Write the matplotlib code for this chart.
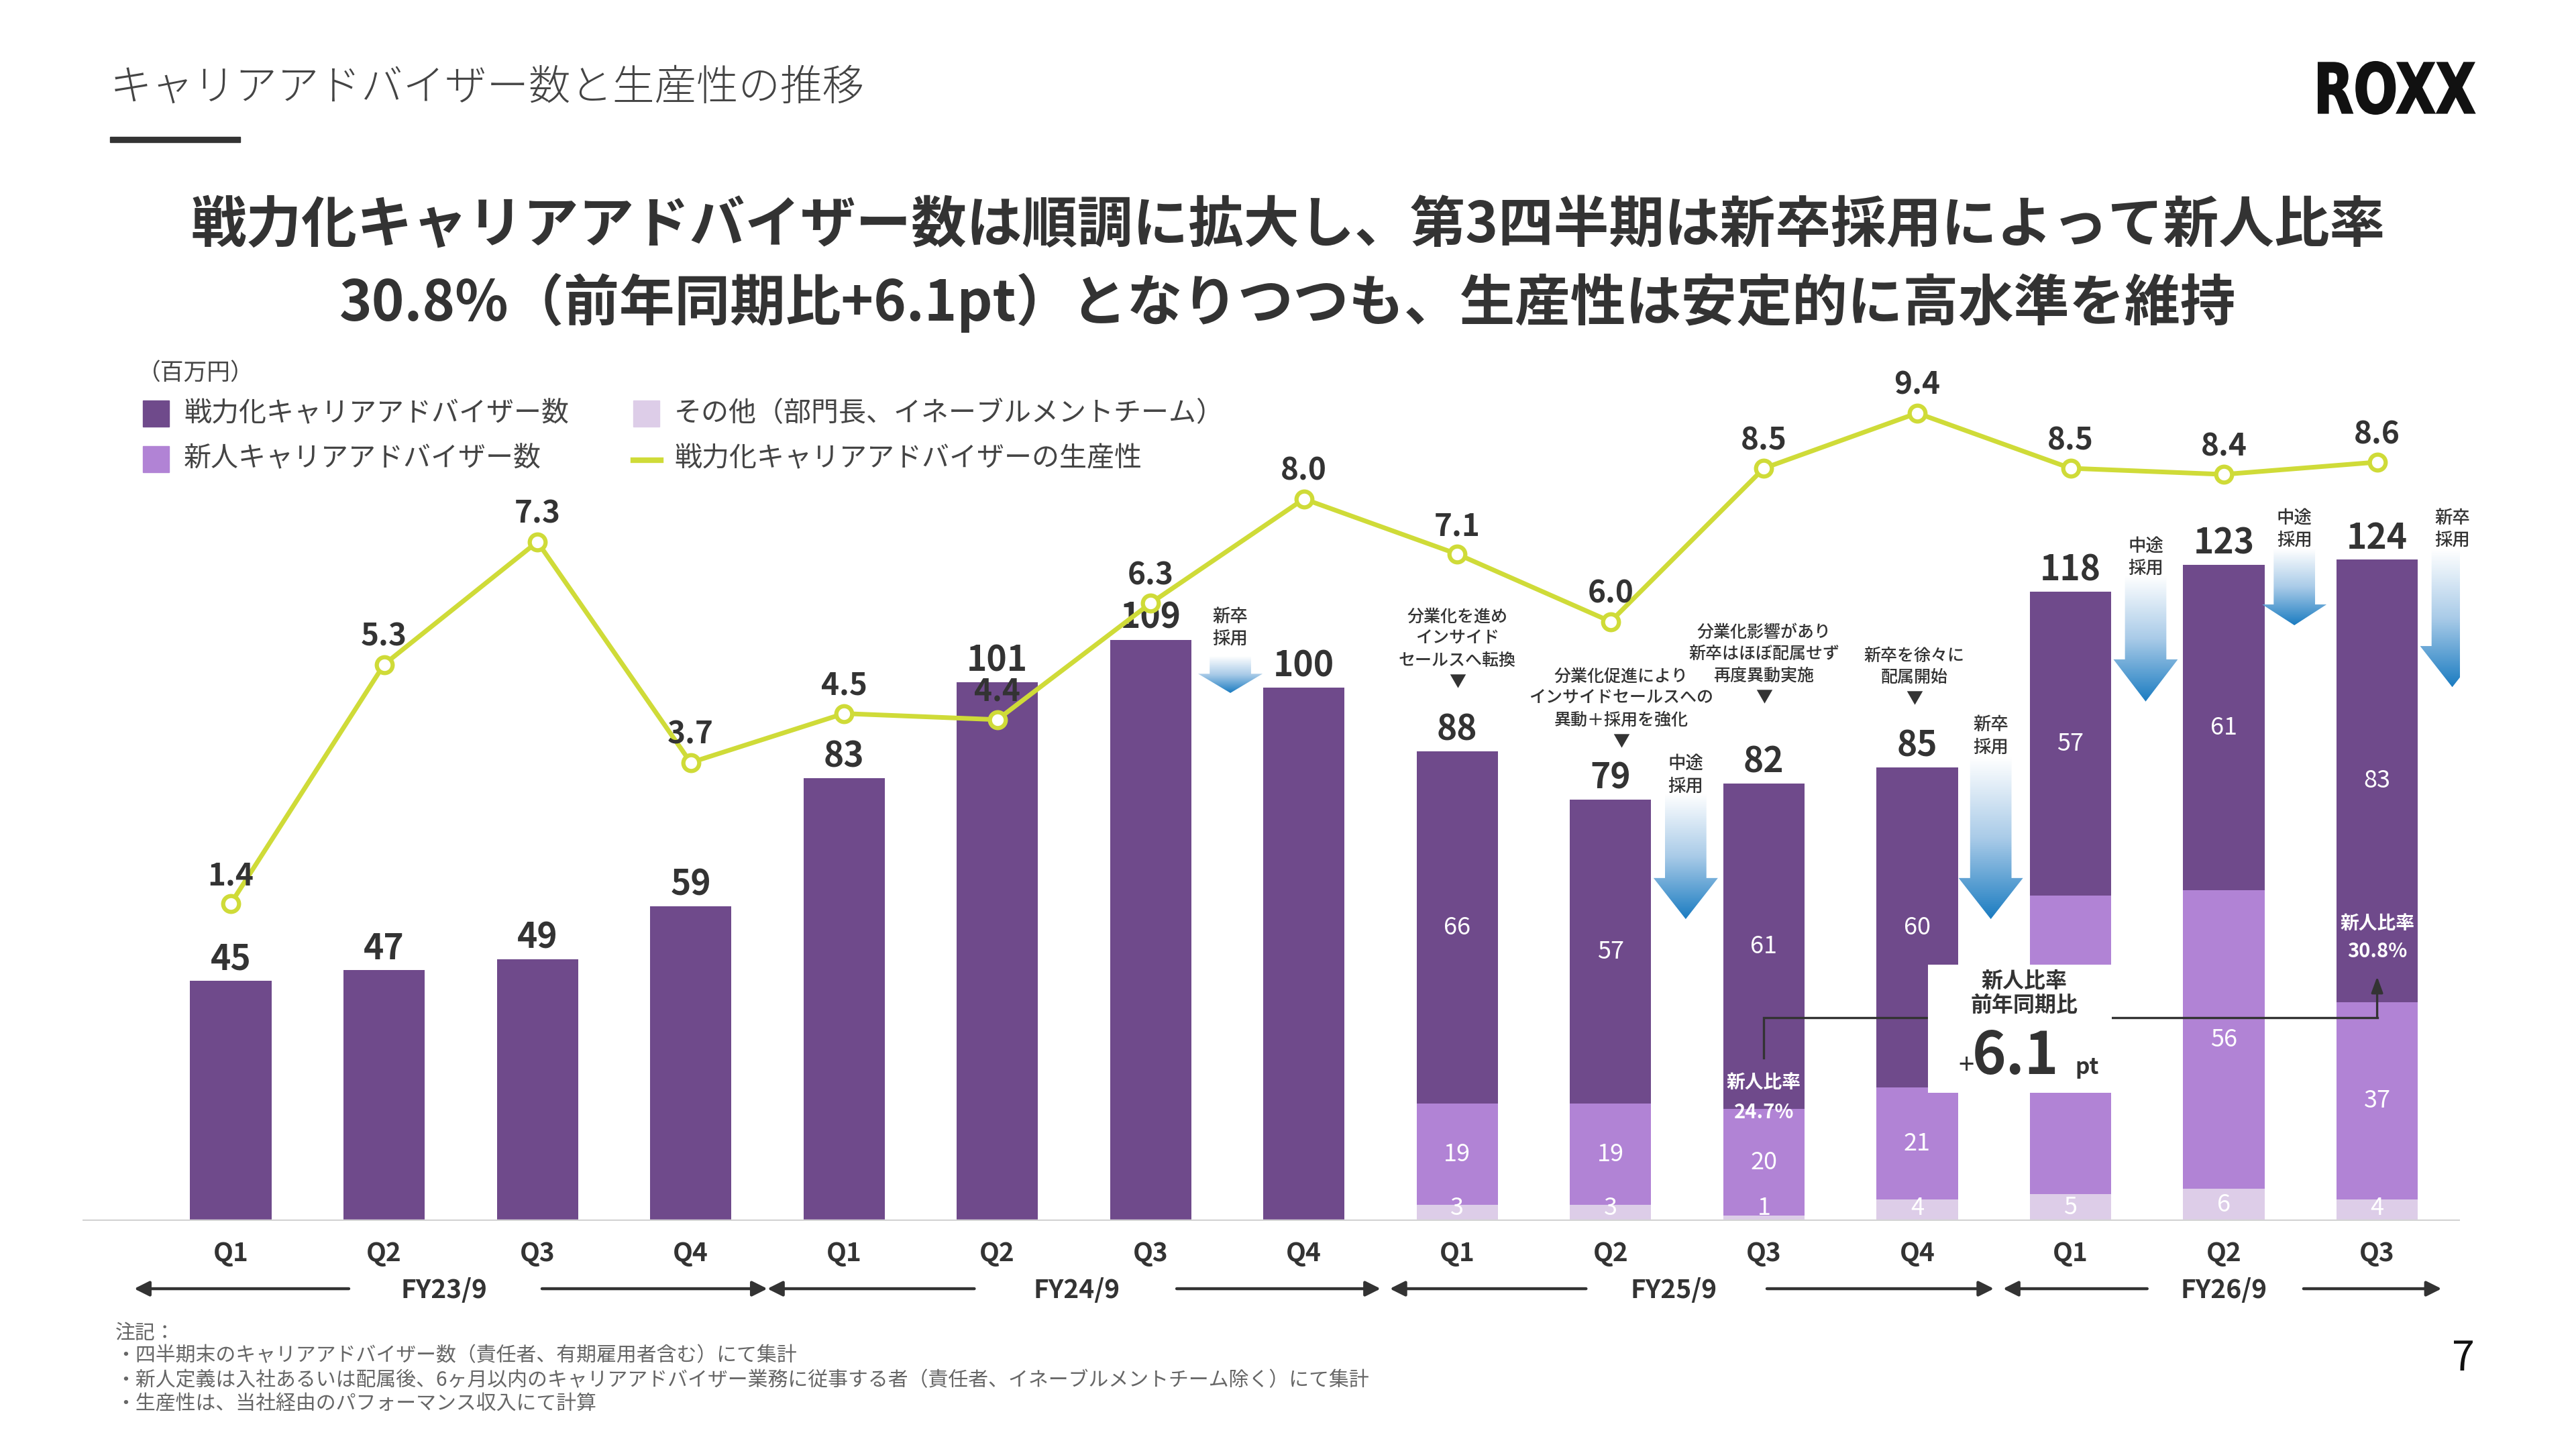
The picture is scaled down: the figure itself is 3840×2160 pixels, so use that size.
import numpy as np
import matplotlib
matplotlib.use('Agg')
import matplotlib.pyplot as plt
import matplotlib.transforms as mtransforms
from matplotlib.patches import Rectangle, Polygon, PathPatch
from matplotlib.lines import Line2D
from matplotlib.colors import LinearSegmentedColormap
from matplotlib.textpath import TextPath
from matplotlib.font_manager import FontProperties

plt.rcParams['font.family'] = ['Noto Sans CJK JP', 'DejaVu Sans']

# ---- data ----
quarters = ['Q1', 'Q2', 'Q3', 'Q4', 'Q1', 'Q2', 'Q3', 'Q4',
            'Q1', 'Q2', 'Q3', 'Q4', 'Q1', 'Q2', 'Q3']
fiscal_years = ['FY23/9', 'FY24/9', 'FY25/9', 'FY26/9']
totals = [45, 47, 49, 59, 83, 101, 109, 100, 88, 79, 82, 85, 118, 123, 124]
core = [45, 47, 49, 59, 83, 101, 109, 100, 66, 57, 61, 60, 57, 61, 83]
new_hires = [0, 0, 0, 0, 0, 0, 0, 0, 19, 19, 20, 21, 56, 56, 37]
others = [0, 0, 0, 0, 0, 0, 0, 0, 3, 3, 1, 4, 5, 6, 4]
productivity = [1.4, 5.3, 7.3, 3.7, 4.5, 4.4, 6.3, 8.0, 7.1, 6.0, 8.5, 9.4, 8.5, 8.4, 8.6]
ratio_labels = ['24.7%', '30.8%']
ratio_change = '6.1'

# colours
C_CORE = '#6f4a8b'
C_NEW = '#b183d5'
C_OTHER = '#ddcde8'
C_LINE = '#cfdb38'
C_TEXT = '#333333'

W, H = 3840, 2160
def fx(px):
    return px / W
def fy(py):
    return 1 - py / H

fig = plt.figure(figsize=(38.4, 21.6), dpi=100, facecolor='white')

# ---- header ----
fig.text(fx(164), fy(132), 'キャリアアドバイザー数と生産性の推移', fontsize=45,
         fontweight='light', color='#444444', va='center', ha='left')
fig.add_artist(Rectangle((fx(164), fy(212)), fx(358) - fx(164), 8 / H,
                         transform=fig.transFigure, color='#333333'))

# logo: squeeze a bold text path into the logo box
logo = TextPath((0, 0), 'ROXX', size=100, prop=FontProperties(family='DejaVu Sans', weight='bold'))
ext = logo.get_extents()
lx0, lx1, ly0, ly1 = 3456, 3689, 92, 170
logo_tr = (mtransforms.Affine2D().translate(-ext.x0, -ext.y0)
           .scale((lx1 - lx0) / ext.width / W, (ly1 - ly0) / ext.height / H)
           .translate(fx(lx0), fy(ly1)) + fig.transFigure)
fig.add_artist(PathPatch(logo, transform=logo_tr, facecolor='#111111', edgecolor='#111111', lw=1.5))

fig.text(0.5, fy(337), '戦力化キャリアアドバイザー数は順調に拡大し、第3四半期は新卒採用によって新人比率',
         fontsize=59.5, fontweight='bold', color=C_TEXT, ha='center', va='center')
fig.text(0.5, fy(451), '30.8%（前年同期比+6.1pt）となりつつも、生産性は安定的に高水準を維持',
         fontsize=59.5, fontweight='bold', color=C_TEXT, ha='center', va='center')

# ---- legend (drawn by hand) ----
fig.text(fx(205), fy(557), '（百万円）', fontsize=25, color='#444444', va='center')
leg = [((213, 597), C_CORE, '戦力化キャリアアドバイザー数', 617),
       ((213, 665), C_NEW, '新人キャリアアドバイザー数', 684),
       ((944, 597), C_OTHER, 'その他（部門長、イネーブルメントチーム）', 617)]
for (lx, ly), col, lab, ty in leg:
    fig.add_artist(Rectangle((fx(lx), fy(ly + 39)), 39 / W, 39 / H,
                             transform=fig.transFigure, color=col))
    fig.text(fx(lx + 61), fy(ty), lab, fontsize=29.5, color='#444444', va='center')
fig.add_artist(Line2D([fx(944), fx(985)], [fy(686), fy(686)], transform=fig.transFigure,
                      color=C_LINE, lw=6))
fig.text(fx(1005), fy(684), '戦力化キャリアアドバイザーの生産性', fontsize=29.5,
         color='#444444', va='center')

# ---- main axes ----
ax = fig.add_axes([fx(123), fy(1820), fx(3667) - fx(123), (1820 - 560) / H])
ax2 = ax.twinx()
for a in (ax, ax2):
    a.patch.set_visible(False)
    for s in a.spines.values():
        s.set_visible(False)
    a.set_yticks([])

x = np.arange(len(quarters))
XLIM = (-0.967, 14.54)
YLIM = (0, 158.5)
ax.bar(x, others, width=0.53, color=C_OTHER, zorder=2)
ax.bar(x, new_hires, width=0.53, bottom=others, color=C_NEW, zorder=2)
ax.bar(x, core, width=0.53, bottom=np.add(others, new_hires), color=C_CORE, zorder=2)
ax.axhline(0, color='#d4d4d4', lw=3.2, zorder=3)

for i, t in enumerate(totals):
    ax.annotate(str(t), (i, t), xytext=(0, 12), textcoords='offset points',
                ha='center', va='baseline', fontsize=37, fontweight='bold', color=C_TEXT)

for i in range(len(quarters)):
    if core[i] != totals[i]:
        b0 = others[i] + new_hires[i]
        ax.text(i, b0 + core[i] / 2, str(core[i]), ha='center', va='center',
                fontsize=26, color='white', zorder=3)
        ax.text(i, others[i] + new_hires[i] / 2, str(new_hires[i]), ha='center', va='center',
                fontsize=26, color='white', zorder=3)
        ax.text(i, max(others[i] / 2, 2.4), str(others[i]), ha='center', va='center',
                fontsize=26, color='white', zorder=3)

ax.set_xticks(x)
ax.set_xticklabels(quarters, fontsize=28, fontweight='bold', color=C_TEXT)
ax.tick_params(axis='x', length=0, pad=21)

# fiscal year labels and arrows
trans = mtransforms.blended_transform_factory(ax.transData, ax.transAxes)
fy_pos = [1.39, 5.52, 9.41, 13.0]
fy_arrows = [(0.77, -0.63), (2.03, 3.5), (4.85, 3.5), (6.17, 7.5),
             (8.84, 7.56), (10.02, 11.5), (12.5, 11.56), (13.52, 14.42)]
for lab, px_ in zip(fiscal_years, fy_pos):
    ax.text(px_, -0.0913, lab, transform=trans, ha='center', va='baseline',
            fontsize=28, fontweight='bold', color=C_TEXT)
for tail, head in fy_arrows:
    ax.annotate('', xy=(head, -0.0802), xytext=(tail, -0.0802), xycoords=trans,
                textcoords=trans, annotation_clip=False,
                arrowprops=dict(arrowstyle='-|>,head_length=0.5,head_width=0.25',
                                color=C_TEXT, lw=3.2, mutation_scale=27,
                                shrinkA=0, shrinkB=0))

# comments above FY25 bars
notes = [(8.0, 100.1, ['分業化を進め', 'インサイド', 'セールスへ転換', '▼']),
         (9.07, 88.9, ['分業化促進により', 'インサイドセールスへの', '異動＋採用を強化', '▼']),
         (10.0, 97.2, ['分業化影響があり', '新卒はほぼ配属せず', '再度異動実施', '▼']),
         (10.98, 96.9, ['新卒を徐々に', '配属開始', '▼'])]
for nx, ny, lines in notes:
    for k, line in enumerate(reversed(lines)):
        ax.annotate(line, (nx, ny), xytext=(0, k * 23.5), textcoords='offset points',
                    ha='center', va='baseline', fontsize=18, fontweight='medium',
                    color=C_TEXT, zorder=4)

# gradient arrows (hiring)
blue_cmap = LinearSegmentedColormap.from_list('hire', ['#ffffff', '#a9cbe8', '#1b7cc1'])
grad = np.linspace(0, 1, 256).reshape(-1, 1)
hire_arrows = [(6.52, 105.9, 102.6, 99.0, 108.2, ['新卒', '採用']),
               (9.49, 80.0, 64.3, 56.6, 80.6, ['中途', '採用']),
               (11.48, 86.9, 64.3, 56.6, 87.9, ['新卒', '採用']),
               (12.49, 121.0, 105.3, 97.4, 121.4, ['中途', '採用']),
               (13.46, 126.0, 115.6, 111.7, 126.7, ['中途', '採用']),
               (14.49, 125.8, 107.8, 100.1, 126.7, ['新卒', '採用'])]
sw, hw = 0.135, 0.21
for axx, top, head, tip, lab_y, lab in hire_arrows:
    verts = [(axx - sw, top), (axx + sw, top), (axx + sw, head), (axx + hw, head),
             (axx, tip), (axx - hw, head), (axx - sw, head)]
    poly = Polygon(verts, closed=True, facecolor='none', edgecolor='none')
    ax.add_patch(poly)
    im = ax.imshow(grad, extent=[axx - hw, axx + hw, tip, top], origin='upper',
                   aspect='auto', cmap=blue_cmap, zorder=3)
    im.set_clip_path(poly)
    for k, line in enumerate(reversed(lab)):
        ax.annotate(line, (axx, lab_y), xytext=(0, k * 24), textcoords='offset points',
                    ha='center', va='baseline', fontsize=19, fontweight='medium',
                    color=C_TEXT, zorder=4)

# new-hire ratio callouts
ax.text(10, 24.9, '新人比率', ha='center', va='baseline', fontsize=20,
        fontweight='bold', color='white', zorder=4)
ax.text(10, 19.2, ratio_labels[0], ha='center', va='baseline', fontsize=21,
        fontweight='bold', color='white', zorder=4)
ax.text(14, 54.7, '新人比率', ha='center', va='baseline', fontsize=20,
        fontweight='bold', color='white', zorder=4)
ax.text(14, 49.4, ratio_labels[1], ha='center', va='baseline', fontsize=21,
        fontweight='bold', color='white', zorder=4)
ax.plot([10, 10, 14], [30.6, 38.1, 38.1], color=C_TEXT, lw=2.4, zorder=3.5,
        solid_joinstyle='miter')
ax.annotate('', xy=(14, 45.8), xytext=(14, 38.1),
            arrowprops=dict(arrowstyle='-|>,head_length=0.6,head_width=0.22',
                            color=C_TEXT, lw=2.4, mutation_scale=24,
                            shrinkA=0, shrinkB=0), zorder=3.5)
ax.add_patch(Rectangle((11.07, 24.0), 1.2, 24.1, facecolor='white',
                       edgecolor='none', zorder=4.5))
ax.text(11.7, 44.9, '新人比率', ha='center', va='center', fontsize=23,
        fontweight='bold', color=C_TEXT, zorder=5)
ax.text(11.7, 40.4, '前年同期比', ha='center', va='center', fontsize=23,
        fontweight='bold', color=C_TEXT, zorder=5)
ax.text(11.32, 27.5, '+', ha='center', va='baseline', fontsize=30,
        color=C_TEXT, zorder=5)
ax.text(11.64, 27.5, ratio_change, ha='center', va='baseline', fontsize=62,
        fontweight='bold', color=C_TEXT, zorder=5)
ax.text(12.03, 27.5, 'pt', ha='left', va='baseline', fontsize=24,
        fontweight='bold', color=C_TEXT, zorder=5)

ax.set_xlim(*XLIM)
ax.set_ylim(*YLIM)

# productivity line
ax2.plot(x, productivity, color=C_LINE, lw=5, marker='o', ms=17,
         mfc='white', mec=C_LINE, mew=4.5, zorder=5)
for i, v in enumerate(productivity):
    ax2.annotate(f'{v:.1f}', (i, v), xytext=(0, 20), textcoords='offset points',
                 ha='center', va='baseline', fontsize=33, fontweight='bold',
                 color=C_TEXT, zorder=6)
ax2.set_xlim(*XLIM)
ax2.set_ylim(-3.775, 10.01)

# ---- footnotes ----
notes_txt = ['注記：',
             '・四半期末のキャリアアドバイザー数（責任者、有期雇用者含む）にて集計',
             '・新人定義は入社あるいは配属後、6ヶ月以内のキャリアアドバイザー業務に従事する者（責任者、イネーブルメントチーム除く）にて集計',
             '・生産性は、当社経由のパフォーマンス収入にて計算']
for t, ty in zip(notes_txt, [1988, 2021, 2058, 2093]):
    fig.text(fx(172), fy(ty), t, fontsize=21.5, color='#666666', va='center')

fig.text(fx(3672), fy(2026), '7', fontsize=44, color='#111111', ha='center', va='center')

fig.savefig('out.png', dpi=100, facecolor='white')
